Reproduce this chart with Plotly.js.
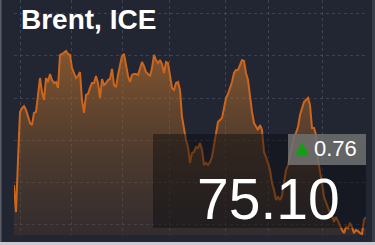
<!DOCTYPE html>
<html>
<head>
<meta charset="utf-8">
<script src="https://cdn.plot.ly/plotly-3.0.1.min.js"></script>
<style>
  html, body { margin: 0; padding: 0; background: #222633; }
  #chart { width: 375px; height: 245px; }
</style>
</head>
<body>
<div id="chart"></div>
<script>
// Brent (ICE) closing prices, oldest first
const prices = [
  74.82, 73.21, 76.31, 79.17, 79.40, 79.52, 79.29, 78.81, 78.51, 78.39,
  79.11, 79.17, 80.18, 81.19, 80.36, 79.88, 81.19, 80.95, 81.43, 81.07,
  80.89, 80.95, 80.60, 82.56, 82.62, 82.74, 82.80, 82.62, 82.56, 81.78,
  81.43, 81.19, 81.31, 81.55, 79.88, 79.11, 80.18, 80.24, 80.60, 80.89,
  80.89, 81.31, 80.89, 80.00, 81.13, 80.77, 80.89, 81.07, 81.13, 81.73,
  80.77, 80.65, 81.37, 81.96, 82.50, 82.62, 82.02, 81.31, 80.95, 81.37,
  81.43, 81.43, 81.37, 81.78, 82.14, 81.90, 81.55, 81.43, 81.31, 81.78,
  82.56, 82.26, 82.08, 82.26, 82.02, 81.49, 82.14, 82.08, 81.37, 80.60,
  80.48, 80.89, 80.95, 80.48, 78.87, 78.10, 77.50, 77.08, 76.13, 76.73,
  76.79, 77.08, 77.02, 77.32, 76.90, 76.01, 76.13, 76.01, 76.19, 76.49,
  77.20, 77.98, 78.57, 78.69, 78.81, 79.40, 80.00, 80.24, 80.54, 80.95,
  81.49, 81.67, 81.67, 81.96, 82.26, 82.20, 81.49, 81.07, 80.06, 79.17,
  78.51, 78.33, 78.10, 78.39, 78.10, 76.79, 76.49, 76.13, 75.71, 74.94,
  74.52, 73.93, 74.11, 73.93, 74.17, 75.00, 75.71, 76.01, 76.55, 77.20,
  77.68, 77.92, 78.27, 78.99, 79.40, 79.76, 79.88, 80.00, 79.58, 78.21,
  78.21, 77.80, 76.31, 75.71, 74.94, 74.11, 73.75, 73.51, 73.15, 73.03,
  72.62, 72.92, 72.62, 72.32, 72.14, 71.96, 72.32, 72.26, 72.56, 72.32,
  71.96, 72.14, 72.08, 71.96, 71.90, 72.74, 72.92
];
// trading-day positions of the vertical grid lines
const gridDays = [3, 28.5, 54, 77.5, 105.5, 127, 154];
// horizontal grid levels
const gridLevels = [72.5, 75, 77.5, 80, 82.5, 85];

const titleText = "Brent, ICE";
const lastPrice = "75.10";
const change = "0.76";

const days = prices.map((_, i) => i);

const trace = {
  x: days,
  y: prices,
  type: "scatter",
  mode: "lines",
  line: { color: "#cc661d", width: 2, shape: "linear" },
  fill: "tozeroy",
  fillgradient: {
    type: "vertical",
    start: 71.85,
    stop: 82.8,
    colorscale: [[0, "rgba(90,60,35,0.30)"], [1, "rgba(190,115,45,0.62)"]]
  },
  hoverinfo: "skip"
};

const layout = {
  width: 375,
  height: 245,
  margin: { l: 14, r: 9, t: 0, b: 10, pad: 0 },
  paper_bgcolor: "#222633",
  plot_bgcolor: "#222633",
  showlegend: false,
  xaxis: {
    range: [0, prices.length - 1],
    tickmode: "array",
    tickvals: gridDays,
    showticklabels: false,
    ticks: "",
    showgrid: true,
    gridcolor: "rgba(72,78,95,0.75)",
    griddash: "3px,3px",
    gridwidth: 1,
    zeroline: false,
    showline: false,
    fixedrange: true
  },
  yaxis: {
    range: [71.845, 85.833],
    tickmode: "array",
    tickvals: gridLevels,
    showticklabels: false,
    ticks: "",
    showgrid: true,
    gridcolor: "rgba(72,78,95,0.75)",
    griddash: "3px,3px",
    gridwidth: 1,
    zeroline: false,
    showline: false,
    fixedrange: true
  },
  shapes: [
    // dark quote panel
    { type: "rect", xref: "paper", yref: "paper", x0: 0.3949, x1: 1.0, y0: 0.0298, y1: 0.4298,
      fillcolor: "rgba(12,12,14,0.45)", line: { width: 0 }, layer: "above" },
    // change badge
    { type: "rect", xref: "paper", yref: "paper", x0: 0.7784, x1: 1.0, y0: 0.2979, y1: 0.4298,
      fillcolor: "rgba(125,125,125,0.75)", line: { width: 0 }, layer: "above" },
    // up triangle
    { type: "path", xref: "paper", yref: "paper",
      path: "M 0.7983 0.3362 L 0.8381 0.3362 L 0.8182 0.3957 Z",
      fillcolor: "#12a012", line: { width: 0 }, layer: "above" },
    // frame edges
    { type: "rect", xref: "paper", yref: "paper", x0: -0.0398, x1: -0.0355, y0: -0.0426, y1: 1.0,
      fillcolor: "#5b5e66", line: { width: 0 }, layer: "above" },
    { type: "rect", xref: "paper", yref: "paper", x0: 1.017, x1: 1.026, y0: -0.0426, y1: 1.0,
      fillcolor: "#3a3e49", line: { width: 0 }, layer: "above" },
    { type: "rect", xref: "paper", yref: "paper", x0: -0.0398, x1: 1.026, y0: -0.0426, y1: -0.0298,
      fillcolor: "#c9cbd0", line: { width: 0 }, layer: "above" }
  ],
  annotations: [
    { text: "<b>" + titleText + "</b>", xref: "paper", yref: "paper", x: 0.014, y: 0.915,
      xanchor: "left", yanchor: "middle", showarrow: false,
      font: { family: "Liberation Sans, Arial, sans-serif", size: 28, color: "#ffffff" } },
    { text: lastPrice, xref: "paper", yref: "paper", x: 0.932, y: 0.152,
      xanchor: "right", yanchor: "middle", showarrow: false,
      font: { family: "Liberation Sans, Arial, sans-serif", size: 57, color: "#ffffff" } },
    { text: change, xref: "paper", yref: "paper", x: 0.846, y: 0.366,
      xanchor: "left", yanchor: "middle", showarrow: false,
      font: { family: "Liberation Sans, Arial, sans-serif", size: 22, color: "#ffffff" } }
  ]
};

Plotly.newPlot("chart", [trace], layout, { staticPlot: true, displayModeBar: false });
</script>
</body>
</html>
